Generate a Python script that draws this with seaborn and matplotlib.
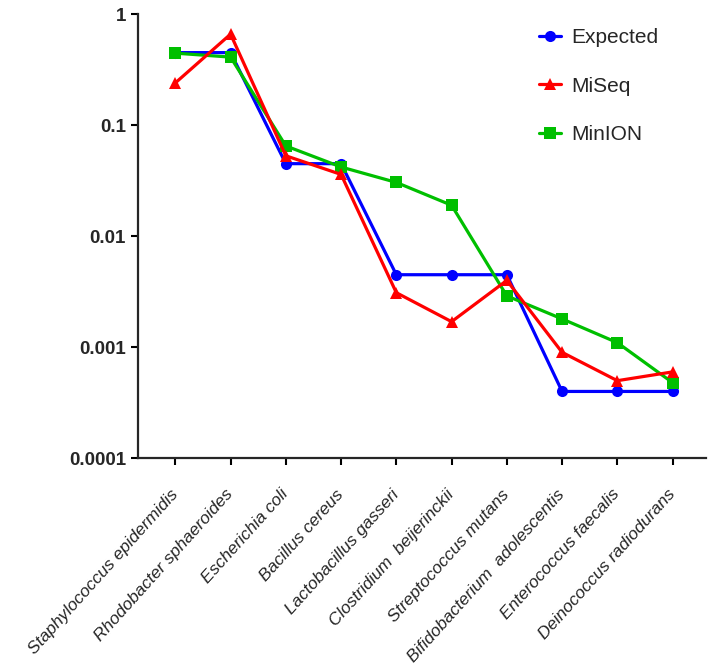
import numpy as np
import pandas as pd
import matplotlib
matplotlib.use('Agg')
import matplotlib.pyplot as plt
import seaborn as sns
from matplotlib.lines import Line2D

# data (relative abundance, log scale)
species = ['Staphylococcus epidermidis', 'Rhodobacter sphaeroides', 'Escherichia coli',
           'Bacillus cereus', 'Lactobacillus gasseri', 'Clostridium  beijerinckii',
           'Streptococcus mutans', 'Bifidobacterium  adolescentis', 'Enterococcus faecalis',
           'Deinococcus radiodurans']
expected = [0.45, 0.45, 0.045, 0.045, 0.0045, 0.0045, 0.0045, 0.0004, 0.0004, 0.0004]
miseq = [0.24, 0.66, 0.053, 0.036, 0.0031, 0.0017, 0.004, 0.0009, 0.0005, 0.0006]
minion = [0.445, 0.41, 0.065, 0.042, 0.0305, 0.019, 0.0029, 0.0018, 0.0011, 0.00048]

series_names = ['Expected', 'MiSeq', 'MinION']
colors = {'Expected': '#0000FF', 'MiSeq': '#FF0000', 'MinION': '#00BF00'}
markers = {'Expected': 'o', 'MiSeq': '^', 'MinION': 's'}

df = pd.DataFrame({'species': species * 3,
                   'value': expected + miseq + minion,
                   'series': ['Expected'] * 10 + ['MiSeq'] * 10 + ['MinION'] * 10})
df['pos'] = list(range(10)) * 3

sns.set_style('ticks')
plt.rcParams['font.family'] = ['Liberation Sans', 'DejaVu Sans']

fig = plt.figure(figsize=(7.1, 6.72), dpi=100)
ax = fig.add_axes([0.194, 0.318, 0.80, 0.661])

# drawing order: blue first, then green, red on top
for name in ['Expected', 'MinION', 'MiSeq']:
    sub = df[df.series == name]
    sns.lineplot(data=sub, x='pos', y='value', color=colors[name], marker=markers[name],
                 markersize=8, markeredgewidth=0, linewidth=2.3, sort=False, ax=ax,
                 legend=False)

ax.set_yscale('log')
ax.set_ylim(1e-4, 1)
ax.set_xlim(-0.68, 9.6)
ax.set_yticks([1e-4, 1e-3, 1e-2, 1e-1, 1])
ax.set_yticklabels(['0.0001', '0.001', '0.01', '0.1', '1'], fontsize=13.5, fontweight='bold')
ax.yaxis.set_minor_locator(matplotlib.ticker.NullLocator())
ax.set_xticks(range(10))
ax.set_xticklabels(species, rotation=48, ha='right', va='center', rotation_mode='anchor',
                   fontsize=12.5, fontstyle='italic')
ax.set_xlabel('')
ax.set_ylabel('')
ax.tick_params(axis='both', width=1.5, length=5, color='black')
ax.tick_params(axis='x', pad=19)
for s in ['left', 'bottom']:
    ax.spines[s].set_linewidth(1.6)
for s in ['top', 'right']:
    ax.spines[s].set_visible(False)

handles = [Line2D([], [], color=colors[n], marker=markers[n], markersize=8,
                  markeredgewidth=0, linewidth=2.3) for n in series_names]
ax.legend(handles, series_names, loc='upper left', bbox_to_anchor=(0.759, 0.958),
          bbox_transform=fig.transFigure, frameon=False, fontsize=15,
          handlelength=1.06, labelspacing=1.41, handletextpad=0.48,
          borderaxespad=0, borderpad=0)

fig.savefig('out.png', dpi=100)
